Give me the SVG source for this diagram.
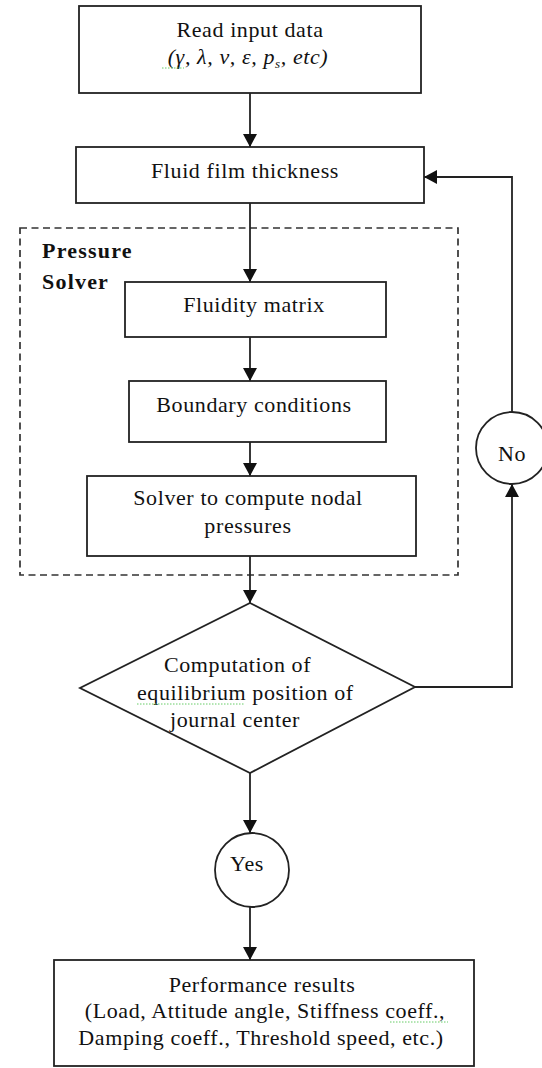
<svg xmlns="http://www.w3.org/2000/svg" width="542" height="1068" viewBox="0 0 542 1068">
<defs>
<marker id="ah" markerWidth="14" markerHeight="14" refX="13" refY="7" orient="auto" markerUnits="userSpaceOnUse">
<path d="M0,0 L13,7 L0,14 Z" fill="#111"/>
</marker>
<style>
.box{fill:#fff;stroke:#222;stroke-width:1.8}
.dash{fill:none;stroke:#333;stroke-width:1.7;stroke-dasharray:7,4.5}
.t{font-family:"Liberation Serif","Times New Roman",serif;font-size:22px;fill:#111;letter-spacing:0.6px}
.c{text-anchor:middle}
.b{font-weight:bold;letter-spacing:1.2px}
.i{font-style:italic}
.ln{fill:none;stroke:#222;stroke-width:1.8}
.sq{fill:none;stroke:#6c6;stroke-width:1;stroke-dasharray:1.5,1.5}
</style>
</defs>
<rect width="542" height="1068" fill="#fff"/>

<g id="pressure-solver">
<rect class="dash" x="20" y="228" width="438" height="347"/>
<text class="t b" x="42" y="258">Pressure</text>
<text class="t b" x="42" y="289">Solver</text>
</g>

<g id="connectors">
<line class="ln" x1="250" y1="93" x2="250" y2="147" marker-end="url(#ah)"/>
<line class="ln" x1="250" y1="203" x2="250" y2="282" marker-end="url(#ah)"/>
<line class="ln" x1="250" y1="337" x2="250" y2="381" marker-end="url(#ah)"/>
<line class="ln" x1="250" y1="442" x2="250" y2="476" marker-end="url(#ah)"/>
<line class="ln" x1="250" y1="556" x2="250" y2="603" marker-end="url(#ah)"/>
<line class="ln" x1="250" y1="773" x2="250" y2="833" marker-end="url(#ah)"/>
<line class="ln" x1="250" y1="907" x2="250" y2="960" marker-end="url(#ah)"/>
<polyline class="ln" points="415,687 512,687 512,484" marker-end="url(#ah)"/>
<polyline class="ln" points="512,412 512,177 424,177" marker-end="url(#ah)"/>
</g>

<g id="read-input">
<rect class="box" x="79" y="6" width="342" height="87"/>
<text class="t c" x="250" y="37">Read input data</text>
<text class="t c i" x="248" y="64">(γ,  λ, ν, ε, p<tspan font-size="13" dy="4">s</tspan><tspan dy="-4">, etc)</tspan></text>
<path class="sq" d="M162,68 L184,68"/>
</g>

<g id="fluid-film">
<rect class="box" x="76" y="147" width="348" height="56"/>
<text class="t c" x="245" y="178">Fluid film thickness</text>
</g>

<g id="fluidity-matrix">
<rect class="box" x="125" y="282" width="261" height="55"/>
<text class="t c" x="254" y="312">Fluidity matrix</text>
</g>

<g id="boundary-conditions">
<rect class="box" x="129" y="381" width="257" height="61"/>
<text class="t c" x="254" y="412">Boundary conditions</text>
</g>

<g id="solver">
<rect class="box" x="87" y="476" width="329" height="80"/>
<text class="t c" x="248" y="505">Solver to compute nodal</text>
<text class="t c" x="248" y="533">pressures</text>
</g>

<g id="equilibrium">
<polygon class="box" points="250,603 415,687 250,773 80,688"/>
<text class="t" x="164" y="672">Computation of</text>
<text class="t" x="137" y="700">equilibrium position of</text>
<text class="t" x="170" y="727">journal center</text>
<path class="sq" d="M137,704 L245,704"/>
</g>

<g id="no">
<circle class="box" cx="512" cy="448" r="36"/>
<text class="t c" x="512" y="461">No</text>
</g>

<g id="yes">
<circle class="box" cx="252" cy="870" r="37"/>
<text class="t c" x="247" y="871">Yes</text>
</g>

<g id="results">
<rect class="box" x="54" y="960" width="420" height="106"/>
<text class="t c" x="262" y="992">Performance results</text>
<text class="t c" x="265" y="1018">(Load, Attitude angle, Stiffness coeff.,</text>
<text class="t c" x="261" y="1045">Damping coeff., Threshold speed, etc.)</text>
<path class="sq" d="M390,1022 L448,1022"/>
</g>
</svg>
